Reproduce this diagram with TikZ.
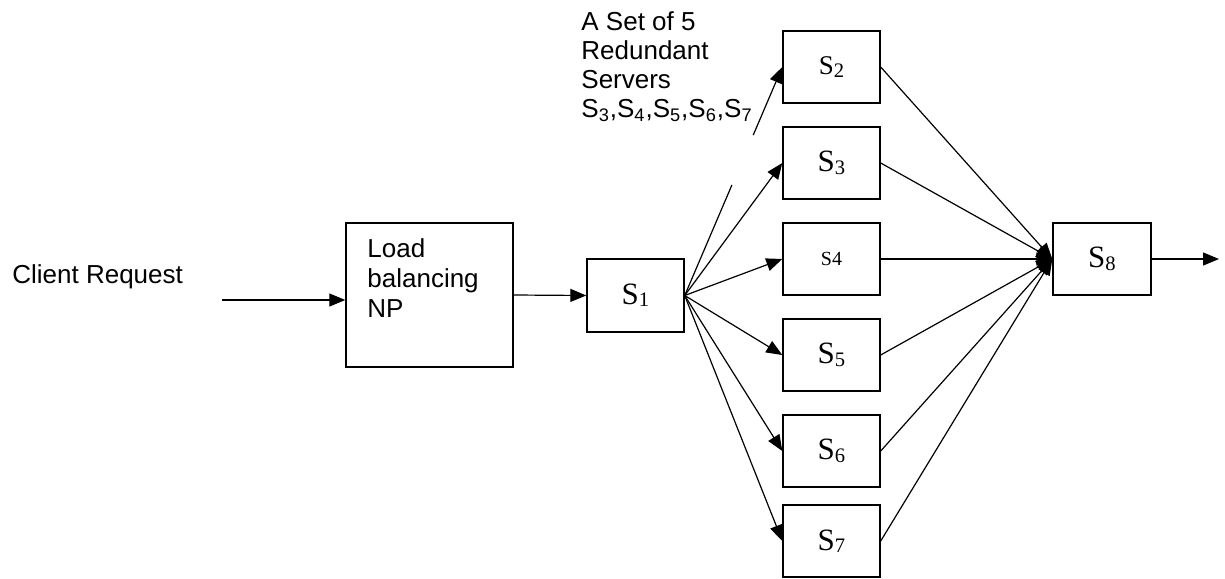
\documentclass[tikz,border=0pt]{standalone}
\usepackage{fontspec}
\setmainfont{Liberation Sans}
\newfontfamily\serif{Liberation Serif}
\usetikzlibrary{arrows.meta,calc}

% lowered index used inside the server boxes
\newcommand\idx[1]{{\fontsize{10.3}{12}\selectfont\raisebox{-1.2pt}{#1}}}

\begin{document}
\begin{tikzpicture}[x=0.5pt,y=-0.5pt,
  box/.style={draw,line width=0.7pt,minimum width=48.5pt,minimum height=36pt,
    inner sep=0pt,font=\serif\fontsize{15.5}{17}\selectfont},
  link/.style={line width=0.6pt,-{Triangle[length=8pt,width=6.5pt]}},
  bare/.style={line width=0.6pt},
  plain/.style={font=\fontsize{13}{14.5}\selectfont,inner sep=0pt,align=left}]

\useasboundingbox (0,0) rectangle (1225,578);

% client side
\node[plain,anchor=base west] (client) at (12,283) {Client Request};
\coordinate (req) at (222,300);

% load balancer
\node[draw,line width=0.7pt,minimum width=83.5pt,minimum height=72pt,inner sep=0pt] (lb) at (429.5,295) {};
\node[font=\fontsize{13}{15}\selectfont,inner sep=0pt,align=left,anchor=north west] (lbtext) at (367,238)
  {Load\\balancing\\NP};

% dispatcher
\node[box,minimum height=36.5pt] (s1) at (635.5,295.5) {S\idx{1}};

% redundant servers
\node[box,font=\serif\fontsize{13.5}{16}\selectfont] (s2) at (831.5,67) {S\idx{2}};
\node[box] (s3) at (831.5,163) {S\idx{3}};
\node[box,font=\serif\fontsize{10}{12}\selectfont] (s4) at (831.5,259) {S4};
\node[box] (s5) at (831.5,355) {S\idx{5}};
\node[box] (s6) at (831.5,451) {S\idx{6}};
\node[box] (s7) at (831.5,541) {S\idx{7}};

% collector
\node[box,minimum width=49pt] (s8) at (1102,259) {S\idx{8}};
\coordinate (out) at (1219,259);

% caption over the servers
\node[plain,anchor=north west] (note) at (581,11)
  {A Set of 5\\Redundant\\Servers\\S\textsubscript{3},S\textsubscript{4},S\textsubscript{5},S\textsubscript{6},S\textsubscript{7}};

% connectors
\draw[link] (req) -- (lb.west |- req);
\draw[link] (lb.east) -- (s1.west);

\draw[bare] (s1.east) -- ($(s1.east)!0.484!(s2.west)$);
\draw[link] ($(s1.east)!0.702!(s2.west)$) -- (s2.west);
\foreach \s in {s3,s4,s5,s6,s7}
  \draw[link] (s1.east) -- (\s.west);

\foreach \s in {s2,s3,s4,s5,s6,s7}
  \draw[link] (\s.east) -- (s8.west);

\draw[link] (s8.east) -- (out);
\end{tikzpicture}
\end{document}
